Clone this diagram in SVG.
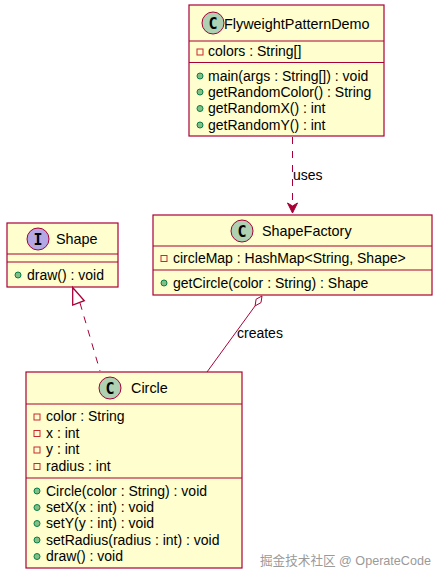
<svg xmlns="http://www.w3.org/2000/svg" width="446" height="582" viewBox="0 0 446 582">
<style>
.box{fill:#FEFECE;stroke:#A80036;stroke-width:1.2}
.div{stroke:#A80036;stroke-width:1.2}
.t{font-family:"Liberation Sans",Arial,sans-serif;font-size:14px;fill:#000}
.title{font-family:"Liberation Sans",Arial,sans-serif;font-size:14.4px;fill:#000}
.cc{fill:#ADD1B2;stroke:#A80036;stroke-width:1}
.ic{fill:#B4A7E5;stroke:#A80036;stroke-width:1}
.ltr{font-family:"DejaVu Sans Mono","Liberation Mono",monospace;font-size:15px;font-weight:bold;fill:#000;text-anchor:middle}
.pub{fill:#84BE84;stroke:#038048;stroke-width:1}
.priv{fill:none;stroke:#C82930;stroke-width:1}
.edge{stroke:#A80036;stroke-width:1;fill:none}
.dash{stroke-dasharray:7,7}
.wm{font-family:"Liberation Sans","Noto Sans CJK SC",sans-serif;font-size:12.6px;fill:#9a9a9a}
</style>
<g id="FlyweightPatternDemo">
<rect class="box" x="189" y="5" width="195" height="131"/>
<circle class="cc" cx="213" cy="23" r="11"/>
<text class="ltr" x="213" y="28.5">C</text>
<text class="title" x="224" y="28.5">FlyweightPatternDemo</text>
<line class="div" x1="189" y1="41" x2="384" y2="41"/>
<rect class="priv" x="197" y="49" width="6" height="6"/>
<text class="t" x="208" y="56">colors : String[]</text>
<line class="div" x1="189" y1="62.5" x2="384" y2="62.5"/>
<circle class="pub" cx="200" cy="76" r="3"/>
<text class="t" x="208" y="81">main(args : String[]) : void</text>
<circle class="pub" cx="200" cy="92" r="3"/>
<text class="t" x="208" y="97">getRandomColor() : String</text>
<circle class="pub" cx="200" cy="108.5" r="3"/>
<text class="t" x="208" y="113">getRandomX() : int</text>
<circle class="pub" cx="200" cy="125" r="3"/>
<text class="t" x="208" y="129.5">getRandomY() : int</text>
</g>
<g id="Shape">
<rect class="box" x="7" y="223" width="111" height="64"/>
<circle class="ic" cx="38" cy="239" r="11"/>
<text class="ltr" x="38" y="244.5">I</text>
<text class="title" x="56" y="244">Shape</text>
<line class="div" x1="7" y1="254" x2="118" y2="254"/>
<line class="div" x1="7" y1="262" x2="118" y2="262"/>
<circle class="pub" cx="18" cy="275" r="3"/>
<text class="t" x="27" y="280">draw() : void</text>
</g>
<g id="ShapeFactory">
<rect class="box" x="153" y="215" width="279" height="80"/>
<circle class="cc" cx="242" cy="231" r="11"/>
<text class="ltr" x="242" y="236.5">C</text>
<text class="title" x="262" y="236">ShapeFactory</text>
<line class="div" x1="153" y1="246" x2="432" y2="246"/>
<rect class="priv" x="161" y="255.5" width="6" height="6"/>
<text class="t" x="173" y="263">circleMap : HashMap&lt;String, Shape&gt;</text>
<line class="div" x1="153" y1="270" x2="432" y2="270"/>
<circle class="pub" cx="164" cy="283" r="3"/>
<text class="t" x="173" y="287.5">getCircle(color : String) : Shape</text>
</g>
<g id="Circle">
<rect class="box" x="26" y="372" width="216" height="196"/>
<circle class="cc" cx="110" cy="388" r="11"/>
<text class="ltr" x="110" y="393.5">C</text>
<text class="title" x="131" y="393">Circle</text>
<line class="div" x1="26" y1="404" x2="242" y2="404"/>
<rect class="priv" x="34" y="414" width="6" height="6"/>
<text class="t" x="46" y="421">color : String</text>
<rect class="priv" x="34" y="430.5" width="6" height="6"/>
<text class="t" x="46" y="437.5">x : int</text>
<rect class="priv" x="34" y="447" width="6" height="6"/>
<text class="t" x="46" y="454">y : int</text>
<rect class="priv" x="34" y="463.5" width="6" height="6"/>
<text class="t" x="46" y="470.5">radius : int</text>
<line class="div" x1="26" y1="478" x2="242" y2="478"/>
<circle class="pub" cx="37" cy="491" r="3"/>
<text class="t" x="46" y="495.5">Circle(color : String) : void</text>
<circle class="pub" cx="37" cy="507.5" r="3"/>
<text class="t" x="46" y="512">setX(x : int) : void</text>
<circle class="pub" cx="37" cy="523.5" r="3"/>
<text class="t" x="46" y="528">setY(y : int) : void</text>
<circle class="pub" cx="37" cy="540" r="3"/>
<text class="t" x="46" y="544.5">setRadius(radius : int) : void</text>
<circle class="pub" cx="37" cy="556.5" r="3"/>
<text class="t" x="46" y="561">draw() : void</text>
</g>
<g id="connectors">
<line class="edge dash" x1="292.5" y1="137" x2="292.5" y2="207"/>
<polygon points="292.5,213 287.5,203 292.5,206 297.5,203" fill="#A80036" stroke="#A80036" stroke-width="1"/>
<text class="t" x="293" y="180">uses</text>
<line class="edge dash" x1="80" y1="303" x2="100" y2="371"/>
<polygon points="72.7,287.5 72.7,305 84.3,300.7" fill="#FFFFFF" stroke="#A80036" stroke-width="1.3"/>
<line class="edge" x1="255.1" y1="305.9" x2="207" y2="372"/>
<polygon points="262,296 261,302.6 255.1,305.9 256.1,299.2" fill="#FFFFFF" stroke="#A80036" stroke-width="1"/>
<text class="t" x="237" y="338">creates</text>
</g>
<text class="wm" x="260" y="565">掘金技术社区 @ OperateCode</text>
</svg>
